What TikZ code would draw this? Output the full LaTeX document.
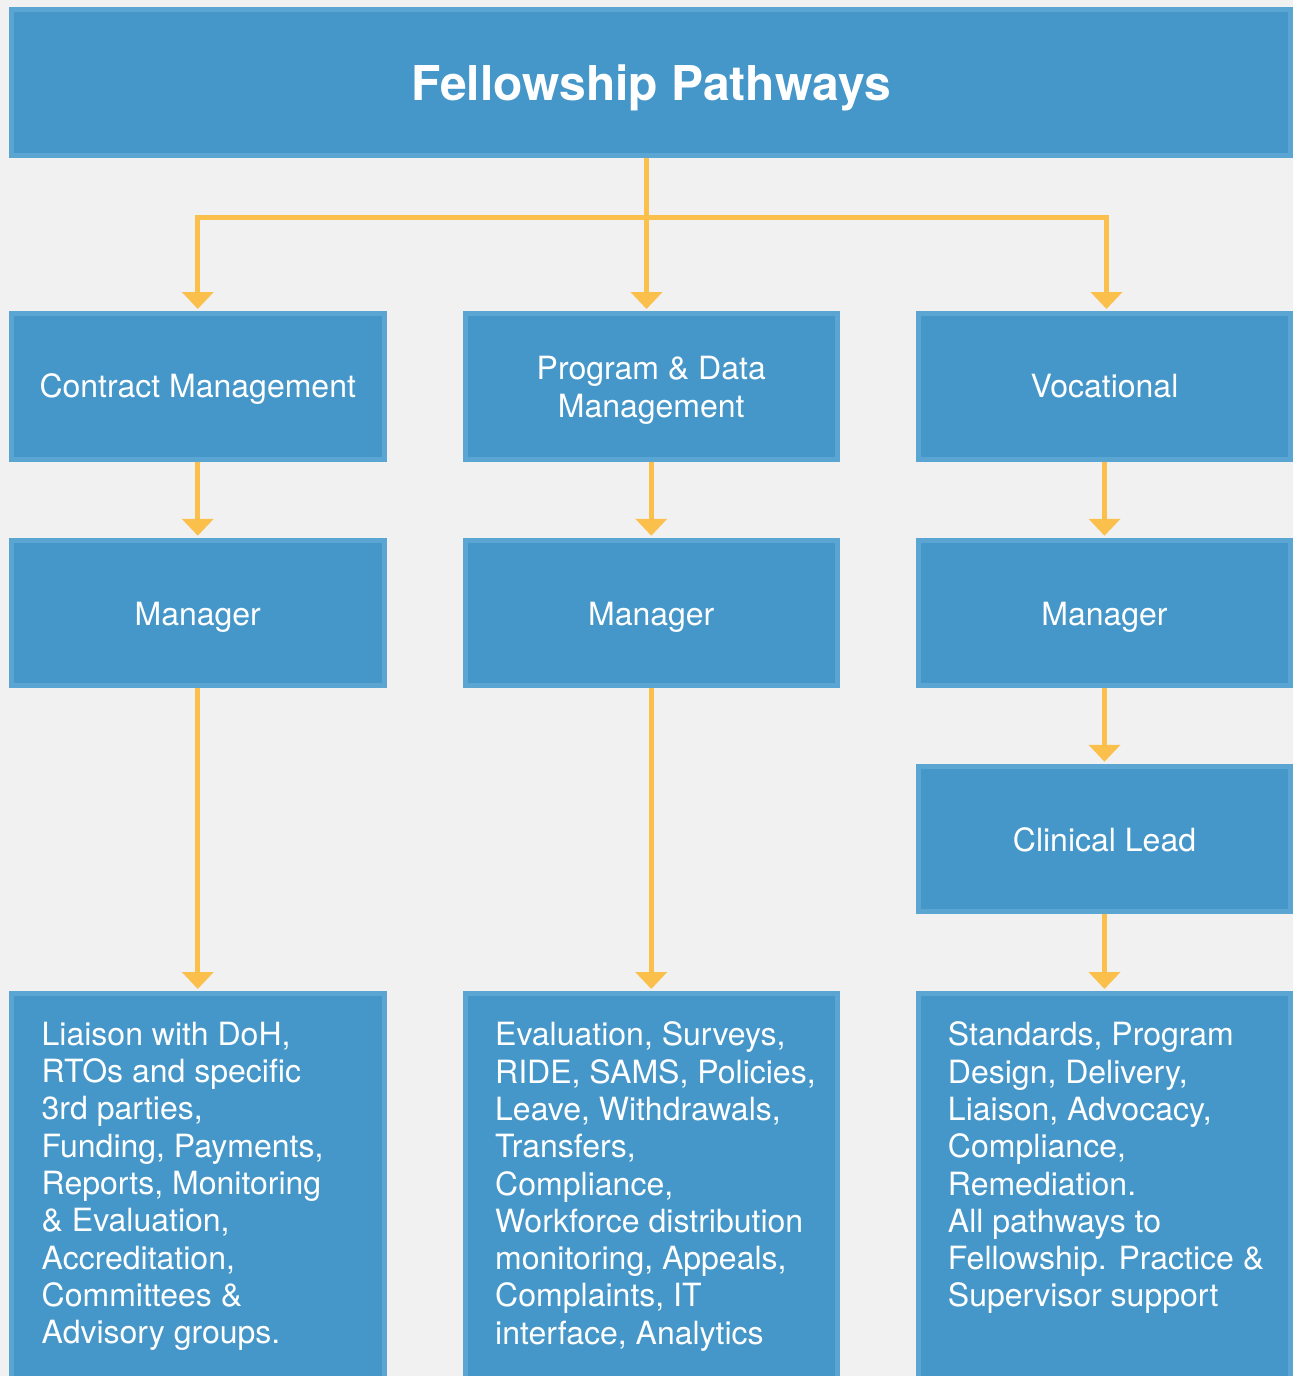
\documentclass[tikz,border=0pt]{standalone}
\usepackage{fontspec}
\setmainfont{TeX Gyre Heros}
\usetikzlibrary{arrows.meta,calc}
\definecolor{bgc}{HTML}{F1F1F1}
\definecolor{boxfill}{HTML}{4697C9}
\definecolor{boxedge}{HTML}{5BA5D3}
\definecolor{connc}{HTML}{FBBF4C}
\begin{document}
\begin{tikzpicture}[x=1pt,y=-1pt,
  box/.style={draw=boxedge, fill=boxfill, line width=5pt, inner sep=0pt,
    minimum width=372.5pt, minimum height=145.5pt},
  lbl/.style={text=white, font=\fontsize{32}{37.3}\selectfont, inner sep=0pt},
  conn/.style={draw=connc, line width=5pt, -{Triangle[width=31pt,length=17pt]}, shorten >=2pt},
  plainconn/.style={draw=connc, line width=5pt}]
\clip (0,0) rectangle (1293,1376);
\fill[bgc] (0,0) rectangle (1293,1376);
% boxes
\node[box, minimum width=1279pt, minimum height=146pt] (title) at (651,82.5) {};
\node[box] (b1) at (197.75,386.25) {};
\node[box] (b2) at (651.25,386.25) {};
\node[box] (b3) at (1104.5,386.25) {};
\node[box] (m1) at (197.75,613) {};
\node[box] (m2) at (651.25,613) {};
\node[box] (m3) at (1104.5,613) {};
\node[box] (cl) at (1104.5,839) {};
\node[box, minimum height=404pt] (d1) at (197.75,1195.5) {};
\node[box, minimum height=404pt] (d2) at (651.25,1195.5) {};
\node[box, minimum height=404pt] (d3) at (1104.5,1195.5) {};
% texts
\node[text=white, inner sep=0pt, font=\fontsize{48}{56}\selectfont\bfseries, anchor=base] (tt) at ($(title.center)+(0,17.5)$) {Fellowship Pathways};
\node[lbl, anchor=base] (t1) at ($(b1.center)+(0,11.5)$) {Contract Management};
\node[lbl, align=center, anchor=north] (t2) at ($(b2.center)+(0,-30)$) {Program \& Data\\Management};
\node[lbl, anchor=base] (t3) at ($(b3.center)+(0,11.5)$) {Vocational};
\node[lbl, anchor=base] (tm1) at ($(m1.center)+(0,12.5)$) {Manager};
\node[lbl, anchor=base] (tm2) at ($(m2.center)+(0,12.5)$) {Manager};
\node[lbl, anchor=base] (tm3) at ($(m3.center)+(0,12.5)$) {Manager};
\node[lbl, anchor=base] (tcl) at ($(cl.center)+(0,12.5)$) {Clinical Lead};
\node[lbl, align=left, anchor=north west] (td1) at ($(d1.north west)+(32.5,30.7)$)
  {Liaison with DoH,\\RTOs and specific\\3rd parties,\\Funding, Payments,\\Reports, Monitoring\\\& Evaluation,\\Accreditation,\\Committees \&\\Advisory groups.};
\node[lbl, align=left, anchor=north west] (td2) at ($(d2.north west)+(32.5,30.7)$)
  {Evaluation, Surveys,\\RIDE, SAMS, Policies,\\Leave, Withdrawals,\\Transfers,\\Compliance,\\Workforce distribution\\monitoring, Appeals,\\Complaints, IT\\interface, Analytics};
\node[lbl, align=left, anchor=north west] (td3) at ($(d3.north west)+(32,30.7)$)
  {Standards, Program\\Design, Delivery,\\Liaison, Advocacy,\\Compliance,\\Remediation.\\All pathways to\\Fellowship. Practice \&\\Supervisor support};
% connectors
\coordinate (j) at (646.5,217.5);
\draw[conn] (title.south -| j) -- (b2.north -| j);
\draw[conn] (j) -| (b1.north);
\draw[conn] (j) -| ([xshift=2pt]b3.north);
\draw[conn] (b1) -- (m1);
\draw[conn] (b2) -- (m2);
\draw[conn] (b3) -- (m3);
\draw[conn] (m1) -- (d1);
\draw[conn] (m2) -- (d2);
\draw[conn] (m3) -- (cl);
\draw[conn] (cl) -- (d3);
\end{tikzpicture}
\end{document}
